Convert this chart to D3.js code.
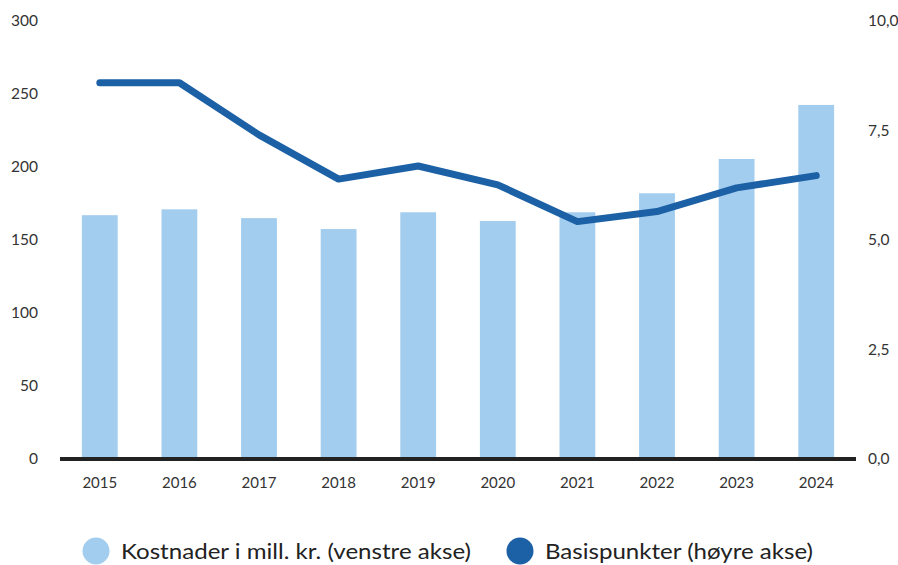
<!DOCTYPE html>
<html>
<head>
<meta charset="UTF-8">
<script src="https://cdn.jsdelivr.net/npm/d3@7"></script>
<style>
  body { margin: 0; background: #fff; }
  svg { display: block; font-family: Lato, "Open Sans", sans-serif; }
</style>
</head>
<body>
<svg id="chart" width="898" height="565"></svg>
<script>
// data
const years = ["2015", "2016", "2017", "2018", "2019", "2020", "2021", "2022", "2023", "2024"];
const kostnader = [167, 171, 165, 157.5, 169, 163, 169, 182, 205.5, 242.5];
const basispunkter = [8.59, 8.59, 7.4, 6.39, 6.69, 6.26, 5.42, 5.65, 6.19, 6.47];
const leftTicks = [0, 50, 100, 150, 200, 250, 300];
const rightTicks = [0, 2.5, 5, 7.5, 10];
const legendLabels = ["Kostnader i mill. kr. (venstre akse)", "Basispunkter (høyre akse)"];

const barColor = "#a3cdee";
const lineColor = "#1c60a5";

const svg = d3.select("#chart");
const plotLeft = 60, plotRight = 856, plotTop = 21, plotBottom = 459;

const x = d3.scaleBand().domain(years).range([plotLeft, plotRight])
    .paddingInner(0.55).paddingOuter(0.275);
const yL = d3.scaleLinear().domain([0, 300]).range([plotBottom, plotTop]);
const yR = d3.scaleLinear().domain([0, 10]).range([plotBottom, plotTop]);

// bars
svg.append("g").selectAll("rect")
  .data(kostnader)
  .join("rect")
  .attr("x", (d, i) => x(years[i]))
  .attr("y", d => yL(d))
  .attr("width", x.bandwidth())
  .attr("height", d => yL(0) - yL(d))
  .attr("fill", barColor);

// left axis
const axL = svg.append("g")
  .attr("transform", "translate(" + 38 + ",0)")
  .call(d3.axisLeft(yL).tickValues(leftTicks).tickSize(0).tickPadding(0));
axL.select(".domain").remove();
axL.selectAll("text").attr("font-size", 15.5).attr("fill", "#333").attr("font-family", "Lato");

// right axis
const axR = svg.append("g")
  .attr("transform", "translate(" + 868 + ",0)")
  .call(d3.axisRight(yR).tickValues(rightTicks).tickSize(0).tickPadding(0)
    .tickFormat(d => d3.format(".1f")(d).replace(".", ",")));
axR.select(".domain").remove();
axR.selectAll("text").attr("font-size", 15.5).attr("fill", "#333").attr("font-family", "Lato");

// bottom axis labels
const axB = svg.append("g")
  .attr("transform", "translate(0," + (plotBottom + 18) + ")")
  .call(d3.axisBottom(x).tickSize(0).tickPadding(0));
axB.select(".domain").remove();
axB.selectAll("text").attr("font-size", 15).attr("fill", "#333").attr("font-family", "Lato");

// baseline
svg.append("line")
  .attr("x1", plotLeft).attr("x2", plotRight)
  .attr("y1", yL(0)).attr("y2", yL(0))
  .attr("stroke", "#222").attr("stroke-width", 4);

// line series
const line = d3.line()
  .x((d, i) => x(years[i]) + x.bandwidth() / 2)
  .y(d => yR(d));

svg.append("path")
  .datum(basispunkter)
  .attr("d", line)
  .attr("fill", "none")
  .attr("stroke", lineColor)
  .attr("stroke-width", 7)
  .attr("stroke-linecap", "round")
  .attr("stroke-linejoin", "round");

// legend
const legend = [
  { cx: 96, tx: 121, w: 350, color: barColor, label: legendLabels[0] },
  { cx: 520, tx: 545, w: 268, color: lineColor, label: legendLabels[1] }
];
const lg = svg.append("g").selectAll("g").data(legend).join("g");
lg.append("circle")
  .attr("cx", d => d.cx).attr("cy", 551).attr("r", 13.5)
  .attr("fill", d => d.color);
lg.append("text")
  .attr("x", d => d.tx).attr("y", 559)
  .attr("font-size", 22).attr("fill", "#222")
  .attr("textLength", d => d.w).attr("lengthAdjust", "spacingAndGlyphs")
  .text(d => d.label);
</script>
</body>
</html>
